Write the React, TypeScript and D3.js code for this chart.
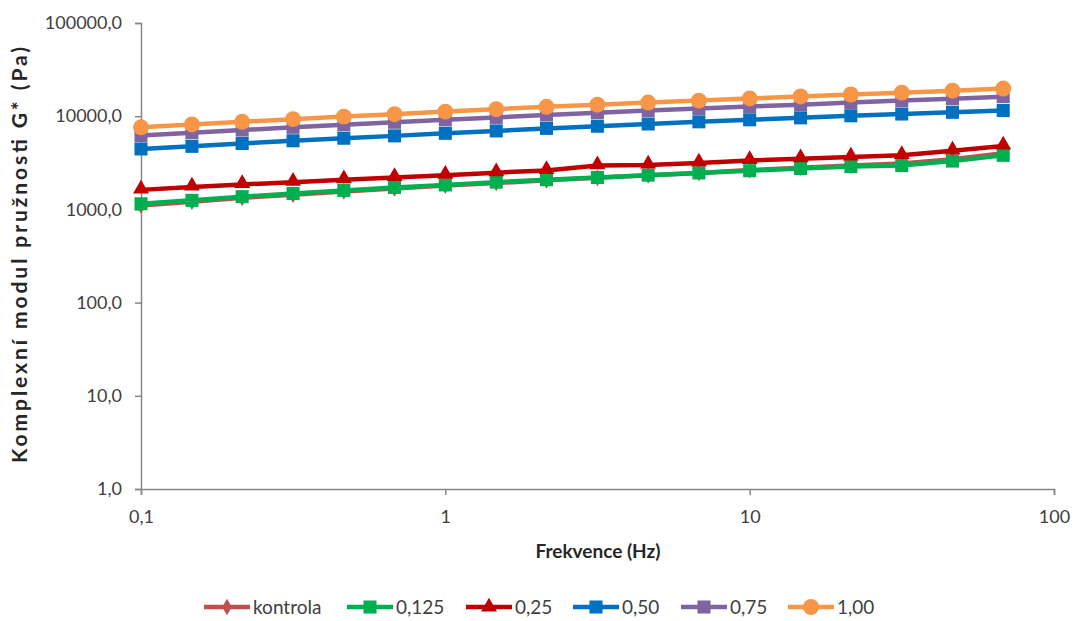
import React, { useRef, useEffect } from 'react';
import * as d3 from 'd3';

// Frequencies (Hz)
const freq = [0.1, 0.147, 0.215, 0.316, 0.464, 0.681, 1, 1.47, 2.15, 3.16, 4.64, 6.81, 10, 14.7, 21.5, 31.6, 46.4, 68.1];

// G* values (Pa) per series
const kontrola = [1100, 1210, 1330, 1440, 1560, 1680, 1800, 1920, 2050, 2180, 2320, 2460, 2640, 2800, 2950, 3100, 3450, 4000];
const s0125 = [1150, 1250, 1370, 1480, 1600, 1720, 1830, 1960, 2080, 2200, 2330, 2460, 2600, 2750, 2880, 2950, 3300, 3800];
const s025 = [1620, 1740, 1850, 1960, 2080, 2200, 2330, 2480, 2620, 2950, 3000, 3150, 3350, 3500, 3650, 3800, 4250, 4800];
const s050 = [4450, 4750, 5100, 5450, 5800, 6150, 6550, 6950, 7400, 7800, 8250, 8700, 9150, 9600, 10100, 10550, 11000, 11500];
const s075 = [6200, 6650, 7100, 7600, 8100, 8600, 9150, 9700, 10300, 10900, 11500, 12100, 12700, 13300, 14000, 14700, 15400, 16200];
const s100 = [7600, 8150, 8700, 9300, 9900, 10500, 11200, 11900, 12600, 13300, 14000, 14700, 15500, 16300, 17100, 17900, 18800, 19800];

const seriesNames = ['kontrola', '0,125', '0,25', '0,50', '0,75', '1,00'];
const seriesValues = [kontrola, s0125, s025, s050, s075, s100];
const seriesColors = ['#C0504D', '#00B050', '#C00000', '#0070C0', '#8064A2', '#F79646'];
const seriesMarkers = ['diamond', 'square', 'triangle', 'square', 'square', 'circle'];

const yTicks = [1, 10, 100, 1000, 10000, 100000];
const xTicks = [0.1, 1, 10, 100];

const FONT = 'Lato, "Open Sans", sans-serif';

const App = () => {
  const ref = useRef<SVGSVGElement>(null);

  useEffect(() => {
    const svg = d3.select(ref.current);
    svg.selectAll('*').remove();

    const left = 141, right = 1054, top = 23, bottom = 489;

    const x = d3.scaleLog().domain([0.1, 100]).range([left, right]);
    const y = d3.scaleLog().domain([1, 100000]).range([bottom, top]);

    const axisColor = '#868686';

    // Y axis
    const yAxis = svg.append('g')
      .attr('transform', `translate(${left},0)`)
      .call(d3.axisLeft(y).tickValues(yTicks).tickSize(6).tickPadding(13)
        .tickFormat(d => d3.format('.1f')(d as number).replace('.', ',')));
    yAxis.select('.domain').attr('stroke', axisColor).attr('stroke-width', 1.5);
    yAxis.selectAll('.tick line').attr('stroke', axisColor).attr('stroke-width', 1.5);
    yAxis.selectAll('text')
      .style('font-family', FONT).style('font-size', '18px').attr('fill', '#404040');

    // X axis
    const xAxis = svg.append('g')
      .attr('transform', `translate(0,${bottom})`)
      .call(d3.axisBottom(x).tickValues(xTicks).tickSize(6).tickPadding(15)
        .tickFormat(d => String(d).replace('.', ',')));
    xAxis.select('.domain').attr('stroke', axisColor).attr('stroke-width', 1.5);
    xAxis.selectAll('.tick line').attr('stroke', axisColor).attr('stroke-width', 1.5);
    xAxis.selectAll('text')
      .style('font-family', FONT).style('font-size', '18px').attr('fill', '#404040');

    // Axis titles
    svg.append('text')
      .attr('x', 598).attr('y', 558)
      .attr('text-anchor', 'middle')
      .style('font-family', FONT).style('font-size', '19px').style('font-weight', 'bold')
      .attr('fill', '#262626')
      .text('Frekvence (Hz)');

    svg.append('text')
      .attr('transform', 'rotate(-90)')
      .attr('x', -463).attr('y', 27)
      .attr('textLength', 416)
      .attr('lengthAdjust', 'spacing')
      .style('font-family', FONT).style('font-size', '21px').style('font-weight', 'bold')
      .attr('fill', '#262626')
      .text('Komplexní modul pružnosti G* (Pa)');

    const symbolFor = (m: string) => {
      if (m === 'circle') return d3.symbol(d3.symbolCircle, 200)();
      if (m === 'triangle') return d3.symbol(d3.symbolTriangle, 110)();
      if (m === 'diamond') return d3.symbol(d3.symbolDiamond, 80)();
      return d3.symbol(d3.symbolSquare, 170)();
    };

    const line = d3.line<number>()
      .x((_, i) => x(freq[i]))
      .y(d => y(d));

    seriesValues.forEach((vals, si) => {
      const g = svg.append('g');
      g.append('path')
        .datum(vals)
        .attr('d', line)
        .attr('fill', 'none')
        .attr('stroke', seriesColors[si])
        .attr('stroke-width', 4.5)
        .attr('stroke-linejoin', 'round');
      g.selectAll('path.marker')
        .data(vals)
        .join('path')
        .attr('class', 'marker')
        .attr('d', symbolFor(seriesMarkers[si]))
        .attr('transform', (d, i) => `translate(${x(freq[i])},${y(d) + (seriesMarkers[si] === 'triangle' ? -1 : 0)})`)
        .attr('fill', seriesColors[si]);
    });

    // Legend
    const legendX = [204, 347, 466, 573, 681, 788];
    const legendY = 607;
    const legend = svg.append('g');
    seriesNames.forEach((name, si) => {
      const lx = legendX[si];
      legend.append('line')
        .attr('x1', lx).attr('x2', lx + 46)
        .attr('y1', legendY).attr('y2', legendY)
        .attr('stroke', seriesColors[si]).attr('stroke-width', 4.5);
      legend.append('path')
        .attr('d', symbolFor(seriesMarkers[si]))
        .attr('transform', `translate(${lx + 23},${legendY})`)
        .attr('fill', seriesColors[si]);
      legend.append('text')
        .attr('x', lx + 49).attr('y', legendY)
        .attr('dy', '0.35em')
        .style('font-family', FONT).style('font-size', '19px')
        .attr('fill', '#404040')
        .text(name);
    });
  }, []);

  return (
    <svg
      ref={ref}
      width={1080}
      height={621}
      style={{ position: 'absolute', left: 0, top: 0, background: '#fff' }}
    />
  );
};

export default App;
